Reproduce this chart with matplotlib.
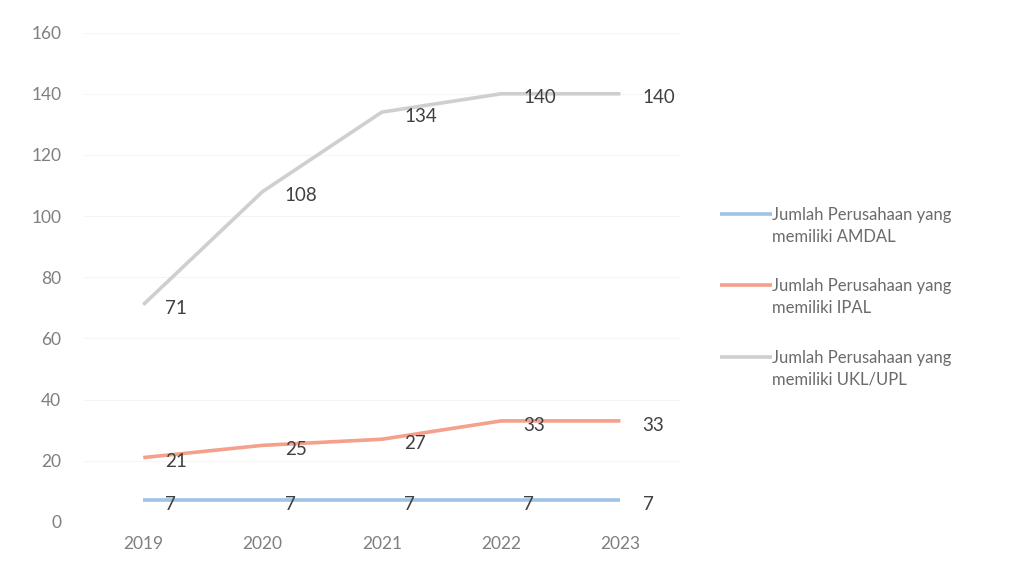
import matplotlib.pyplot as plt

years = ["2019", "2020", "2021", "2022", "2023"]
amdal = [7, 7, 7, 7, 7]
ipal = [21, 25, 27, 33, 33]
ukl_upl = [71, 108, 134, 140, 140]

series_labels = [
    "Jumlah Perusahaan yang\nmemiliki AMDAL",
    "Jumlah Perusahaan yang\nmemiliki IPAL",
    "Jumlah Perusahaan yang\nmemiliki UKL/UPL",
]
colors = ["#9dc3e6", "#f4a08a", "#cfcfcf"]

plt.rcParams['font.family'] = ['Lato', 'DejaVu Sans']

fig = plt.figure(figsize=(10.32, 5.83), dpi=100)
ax = fig.add_axes([0.081, 0.105, 0.578, 0.839])

x = list(range(len(years)))
for vals, lab, c in zip([amdal, ipal, ukl_upl], series_labels, colors):
    ax.plot(x, vals, color=c, linewidth=2.6, label=lab, solid_capstyle='butt')
    for xi, v in zip(x, vals):
        ax.annotate(str(v), xy=(xi, v), xytext=(16, -3), textcoords='offset points',
                    ha='left', va='center', fontsize=13.5, color='#404040')

ax.set_xlim(-0.5, len(years) - 0.5)
ax.set_ylim(0, 160)
ax.set_yticks(range(0, 161, 20))
ax.set_xticks(x)
ax.set_xticklabels(years)
ax.tick_params(length=0, labelsize=12.5, labelcolor='#7f7f7f', pad=10)
ax.tick_params(axis='y', pad=16)
ax.grid(axis='y', color='#f5f5f5', linewidth=0.8)
ax.set_axisbelow(True)
for s in ax.spines.values():
    s.set_visible(False)

leg = fig.legend(loc='center left', bbox_to_anchor=(0.683, 0.49), frameon=False,
                 fontsize=12, labelcolor='#6b6b6b', handlelength=3.1, handletextpad=0.05,
                 labelspacing=2.0)
for t in leg.get_texts():
    t.set_linespacing(1.45)
# align legend lines with the first text row, as in the original chart
for ln in leg.get_lines():
    ln.set_ydata([y + 9 for y in ln.get_ydata()])

plt.savefig("out.png", dpi=100)
